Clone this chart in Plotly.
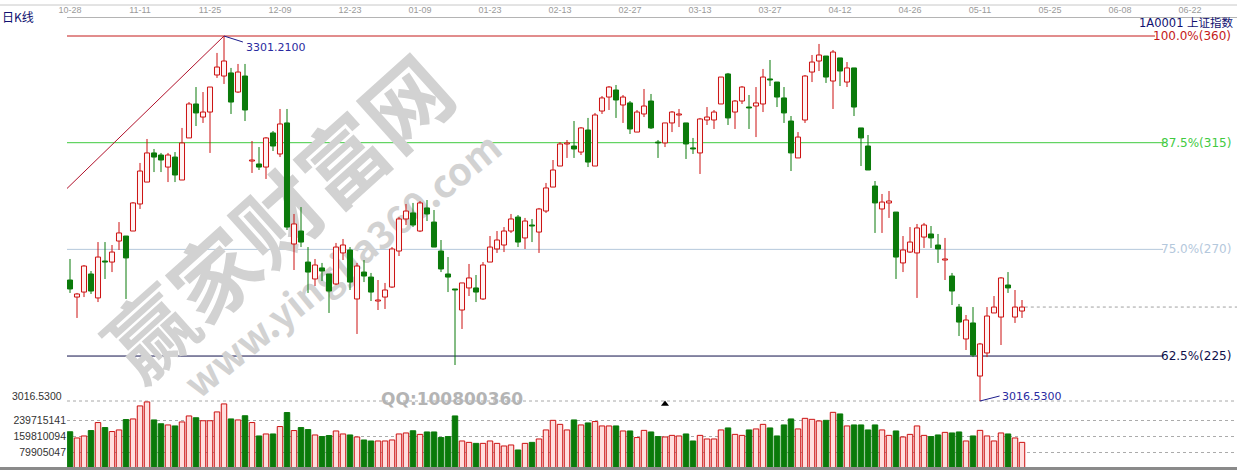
import plotly.graph_objects as go

# ---------------- data ----------------
top_dates = ["10-28", "11-11", "11-25", "12-09", "12-23", "01-09", "01-23", "02-13", "02-27",
             "03-13", "03-27", "04-12", "04-26", "05-11", "05-25", "06-08", "06-22"]
top_date_idx = [0, 10, 20, 30, 40, 50, 60, 70, 80, 90, 100, 110, 120, 130, 140, 150, 160]

open_ = [3110.9, 3097.6, 3101.5, 3115.6, 3096.9, 3125.7, 3124.9, 3141.3, 3145.2, 3149.1,
         3170.2, 3187.3, 3210.0, 3208.4, 3199.0, 3206.8, 3188.9, 3221.7, 3248.2, 3238.0,
         3241.9, 3270.8, 3270.0, 3272.4, 3257.5, 3270.0, 3203.7, 3201.4, 3199.0, 3225.6,
         3209.2, 3233.4, 3139.0, 3149.1, 3124.9, 3111.7, 3120.3, 3115.6, 3107.8, 3132.0,
         3134.3, 3096.1, 3117.1, 3113.2, 3094.5, 3097.6, 3105.4, 3133.5, 3158.5, 3163.2,
         3149.1, 3167.1, 3156.1, 3133.5, 3115.6, 3103.9, 3087.5, 3104.7, 3104.7, 3096.1,
         3124.9, 3135.1, 3138.2, 3149.1, 3160.0, 3143.7, 3153.8, 3148.3, 3164.7, 3183.4,
         3199.8, 3217.0, 3215.4, 3210.7, 3227.9, 3199.8, 3242.7, 3253.6, 3259.1, 3247.4,
         3249.0, 3226.3, 3240.4, 3250.5, 3218.5, 3217.8, 3233.4, 3239.6, 3233.4, 3213.9,
         3210.0, 3235.7, 3235.7, 3248.2, 3271.6, 3241.9, 3250.5, 3245.8, 3246.6, 3248.2,
         3267.7, 3265.3, 3252.9, 3234.9, 3206.1, 3235.7, 3273.1, 3281.7, 3285.6, 3266.1,
         3284.1, 3265.3, 3276.3, 3229.5, 3215.4, 3184.2, 3166.3, 3171.0, 3163.9, 3124.2,
         3132.7, 3132.0, 3144.4, 3146.8, 3138.2, 3126.5, 3114.0, 3089.8, 3064.9, 3077.4,
         3036.0, 3054.0, 3085.2, 3082.0, 3107.0, 3082.0, 3086.7]

high = [3127.3, 3100.8, 3122.6, 3117.9, 3140.5, 3140.5, 3138.2, 3156.1, 3145.2, 3171.7,
        3202.2, 3220.9, 3213.1, 3210.0, 3210.0, 3210.7, 3229.5, 3249.7, 3261.4, 3257.5,
        3261.4, 3288.0, 3301.21, 3276.3, 3279.4, 3279.4, 3219.3, 3214.6, 3222.4, 3227.1,
        3244.3, 3244.3, 3162.4, 3167.8, 3136.6, 3127.3, 3124.2, 3115.6, 3139.8, 3142.9,
        3136.6, 3124.2, 3126.5, 3116.4, 3110.9, 3108.6, 3136.6, 3160.0, 3170.2, 3171.0,
        3172.5, 3173.3, 3165.5, 3142.1, 3128.8, 3103.9, 3108.6, 3123.4, 3114.8, 3124.9,
        3145.2, 3149.1, 3152.2, 3162.4, 3161.6, 3159.3, 3158.5, 3167.1, 3186.6, 3204.5,
        3218.5, 3220.1, 3234.9, 3230.2, 3237.3, 3241.2, 3254.4, 3262.2, 3263.0, 3255.2,
        3250.5, 3243.5, 3259.9, 3256.0, 3220.1, 3233.4, 3242.7, 3244.3, 3233.4, 3221.7,
        3237.3, 3245.8, 3243.5, 3269.2, 3272.4, 3251.3, 3262.2, 3255.2, 3261.4, 3275.5,
        3282.5, 3265.3, 3261.4, 3238.8, 3226.3, 3270.8, 3286.4, 3295.0, 3285.6, 3290.3,
        3284.1, 3280.9, 3276.3, 3229.5, 3224.0, 3188.1, 3178.0, 3180.3, 3163.9, 3145.2,
        3152.2, 3154.6, 3155.4, 3153.0, 3146.8, 3143.7, 3116.4, 3092.2, 3083.6, 3089.8,
        3061.8, 3089.8, 3098.4, 3113.2, 3117.1, 3103.1, 3095.3]

low = [3100.8, 3081.3, 3097.6, 3100.0, 3093.7, 3111.7, 3117.1, 3134.3, 3096.1, 3149.1,
       3166.3, 3187.3, 3195.1, 3195.1, 3187.3, 3187.3, 3188.9, 3221.7, 3231.0, 3233.4,
       3210.0, 3268.5, 3263.8, 3240.4, 3256.8, 3234.9, 3194.4, 3196.7, 3189.7, 3211.5,
       3206.8, 3149.9, 3118.7, 3136.6, 3100.8, 3106.2, 3110.1, 3085.2, 3107.0, 3126.5,
       3103.1, 3068.8, 3109.3, 3094.5, 3087.5, 3088.3, 3104.7, 3129.6, 3153.8, 3152.2,
       3148.3, 3156.9, 3136.6, 3117.1, 3101.5, 3044.6, 3072.7, 3098.4, 3093.7, 3095.3,
       3124.9, 3132.0, 3132.7, 3147.6, 3136.6, 3135.1, 3140.5, 3132.0, 3163.2, 3183.4,
       3199.8, 3206.1, 3206.1, 3208.4, 3199.0, 3199.8, 3240.4, 3243.5, 3237.3, 3233.4,
       3224.8, 3226.3, 3238.0, 3228.7, 3206.1, 3214.6, 3226.3, 3230.2, 3205.3, 3209.2,
       3193.6, 3231.8, 3228.7, 3248.2, 3231.8, 3228.7, 3248.2, 3228.7, 3222.4, 3241.9,
       3262.2, 3245.8, 3233.4, 3195.9, 3206.1, 3233.4, 3265.3, 3273.9, 3264.6, 3244.3,
       3262.2, 3261.4, 3238.8, 3199.8, 3196.7, 3147.6, 3147.6, 3159.3, 3111.7, 3117.1,
       3132.0, 3096.9, 3135.9, 3135.9, 3124.2, 3110.9, 3091.4, 3067.2, 3056.3, 3050.8,
       3016.53, 3050.8, 3085.2, 3060.2, 3100.8, 3077.4, 3081.3]

close = [3103.9, 3100.0, 3121.8, 3102.3, 3128.8, 3124.9, 3132.7, 3147.6, 3128.1, 3171.0,
         3195.9, 3210.0, 3206.8, 3204.5, 3208.4, 3192.8, 3217.8, 3248.2, 3241.2, 3241.9,
         3261.4, 3277.0, 3281.7, 3249.7, 3273.1, 3243.5, 3204.5, 3199.0, 3221.7, 3215.4,
         3232.6, 3152.2, 3154.6, 3140.5, 3117.1, 3122.6, 3117.9, 3102.3, 3136.6, 3138.2,
         3109.3, 3121.8, 3114.0, 3101.5, 3095.3, 3103.1, 3135.1, 3158.5, 3164.7, 3153.8,
         3171.0, 3162.4, 3136.6, 3119.5, 3113.2, 3103.1, 3108.6, 3112.5, 3101.5, 3122.6,
         3136.6, 3142.1, 3149.1, 3158.5, 3140.5, 3156.9, 3153.0, 3166.3, 3182.7, 3196.7,
         3217.0, 3217.8, 3213.1, 3229.5, 3202.9, 3239.6, 3252.9, 3261.4, 3251.3, 3253.6,
         3228.7, 3241.9, 3246.6, 3229.5, 3217.8, 3233.4, 3241.9, 3240.4, 3217.0, 3213.1,
         3236.5, 3238.0, 3241.9, 3269.2, 3237.3, 3250.5, 3261.4, 3245.1, 3249.0, 3269.2,
         3266.9, 3253.6, 3241.2, 3210.0, 3222.4, 3270.0, 3280.9, 3286.4, 3269.2, 3288.7,
         3273.9, 3276.3, 3245.8, 3221.7, 3196.7, 3171.0, 3171.7, 3172.5, 3128.8, 3134.3,
         3140.5, 3151.5, 3153.8, 3143.7, 3135.1, 3127.3, 3102.3, 3078.1, 3079.7, 3052.4,
         3061.0, 3082.8, 3089.8, 3112.5, 3104.7, 3089.8, 3089.8]

# volume, millions of shares
volume_m = [181, 150, 160, 187, 227, 202, 182, 190, 242, 245,
            310, 330, 240, 221, 215, 210, 230, 260, 251, 236,
            236, 280, 320, 245, 240, 261, 227, 160, 170, 170,
            207, 277, 187, 202, 192, 165, 157, 162, 185, 170,
            165, 155, 140, 135, 135, 135, 140, 170, 175, 186,
            168, 180, 180, 152, 157, 260, 135, 128, 123, 123,
            135, 123, 110, 115, 90, 123, 128, 145, 190, 238,
            218, 190, 240, 215, 225, 232, 210, 210, 210, 185,
            185, 152, 188, 180, 157, 155, 163, 160, 170, 135,
            163, 145, 145, 190, 200, 168, 163, 190, 195, 218,
            200, 160, 215, 245, 195, 248, 243, 235, 238, 278,
            270, 210, 215, 215, 190, 215, 190, 163, 185, 155,
            168, 210, 163, 157, 165, 178, 175, 180, 135, 160,
            188, 160, 135, 175, 170, 150, 128]

vol_ticks = [79905047, 159810094, 239715141]

level_names = ["100.0%(360)", "87.5%(315)", "75.0%(270)", "62.5%(225)"]
level_prices = [3301.21, 3218.0, 3134.8, 3051.6]
level_colors = ["#c41a1a", "#3fca3f", "#b4c8dc", "#10104a"]

trend_x = [-0.5, 22]
trend_y = [3181.9, 3301.21]

# ---------------- styling / scales ----------------
RED = "#cc1111"
GREEN = "#0a7a0a"
UP_FILL = "#fff3f3"
VOL_UP_FILL = "#ffdede"
NAVY = "#1c1c8c"

W, H = 1237, 470
L_M, T_M = 67, 18
n = len(open_)
idx = list(range(n))
up = [c >= o for o, c in zip(open_, close)]

price_hi, price_lo = max(high), min(low)
peak_i = high.index(price_hi)
low_i = low.index(price_lo)
ppx = (price_hi - price_lo) / (401 - 36)          # price units per pixel
y_range = [price_lo - (H - 401) * ppx, price_hi + (36 - T_M) * ppx]
vpx = vol_ticks[0] / 16.0                          # volume per pixel
y2_range = [-(H - 468) * vpx, (468 - T_M) * vpx]
x_range = [(L_M - 70) / 7.0, (W - 70) / 7.0]


def paper_x(px):
    return (px - L_M) / (W - L_M)


def paper_y(py):
    return 1 - (py - T_M) / (H - T_M)


fig = go.Figure()

# volume bars
for is_up, fill, edge in [(True, VOL_UP_FILL, RED), (False, GREEN, GREEN)]:
    xs = [i for i in idx if up[i] == is_up]
    fig.add_trace(go.Bar(
        x=xs, y=[volume_m[i] * 1e6 for i in xs], width=0.78, yaxis="y2",
        marker=dict(color=fill, line=dict(color=edge, width=1)), hoverinfo="skip"))

# candle bodies
for is_up, fill, edge in [(True, UP_FILL, RED), (False, GREEN, GREEN)]:
    xs = [i for i in idx if up[i] == is_up]
    fig.add_trace(go.Bar(
        x=xs, y=[abs(close[i] - open_[i]) for i in xs],
        base=[min(open_[i], close[i]) for i in xs], width=0.72, yaxis="y",
        marker=dict(color=fill, line=dict(color=edge, width=1)), hoverinfo="skip"))

# wicks (above and below the body)
for is_up, col in [(True, RED), (False, GREEN)]:
    wx, wy = [], []
    for i in idx:
        if up[i] != is_up:
            continue
        top, bot = max(open_[i], close[i]), min(open_[i], close[i])
        if high[i] > top:
            wx += [i, i, None]
            wy += [high[i], top, None]
        if low[i] < bot:
            wx += [i, i, None]
            wy += [bot, low[i], None]
    fig.add_trace(go.Scatter(x=wx, y=wy, mode="lines", yaxis="y",
                             line=dict(color=col, width=1), hoverinfo="skip"))

# trend line to the peak
fig.add_trace(go.Scatter(x=trend_x, y=trend_y, mode="lines", yaxis="y",
                         line=dict(color="#b0102a", width=1), hoverinfo="skip"))

# leader lines for the high / low labels
fig.add_trace(go.Scatter(x=[peak_i, peak_i + 2.7], y=[price_hi, price_hi - 6 * ppx],
                         mode="lines", line=dict(color=NAVY, width=1), hoverinfo="skip"))
fig.add_trace(go.Scatter(x=[low_i, low_i + 2.8], y=[price_lo, price_lo + 5 * ppx],
                         mode="lines", line=dict(color=NAVY, width=1), hoverinfo="skip"))

# small cursor triangle
fig.add_trace(go.Scatter(x=[85], y=[price_lo - 3 * ppx], mode="markers",
                         marker=dict(symbol="triangle-up", size=7, color="black"),
                         hoverinfo="skip"))

shapes = []
# level lines
for name, lv, col in zip(level_names, level_prices, level_colors):
    end_px = 1155 if name.startswith("100") else 1163
    shapes.append(dict(type="line", xref="x domain", yref="y", x0=0, x1=paper_x(end_px),
                       y0=lv, y1=lv, line=dict(color=col, width=1), layer="below"))
# low dashed line
shapes.append(dict(type="line", xref="x domain", yref="y", x0=0, x1=1, y0=price_lo, y1=price_lo,
                   line=dict(color="#a8a8a8", width=1, dash="3px,3px"), layer="below"))
# last close dashed line
shapes.append(dict(type="line", xref="x", yref="y", x0=n - 0.6, x1=x_range[1],
                   y0=close[-1], y1=close[-1],
                   line=dict(color="#a0a0a0", width=1, dash="3px,3px"), layer="below"))
# bottom bar and top toolbar line
shapes.append(dict(type="rect", xref="paper", yref="paper", x0=paper_x(0), x1=1,
                   y0=paper_y(470), y1=paper_y(467), line=dict(width=0), fillcolor="#8a8a8a"))
shapes.append(dict(type="line", xref="paper", yref="paper", x0=paper_x(0), x1=1,
                   y0=paper_y(5), y1=paper_y(5), line=dict(color="#c8c8c8", width=1)))
# watermark (behind the candles)
for text, cx, cy, size, ang in [("<b>赢家财富网</b>", 285, 225, 86, -42),
                                ("<b>www.yingjia360.com</b>", 345, 268, 38, -39)]:
    shapes.append(dict(type="rect", xref="paper", yref="paper",
                       x0=paper_x(cx) - 0.001, x1=paper_x(cx) + 0.001,
                       y0=paper_y(cy) - 0.001, y1=paper_y(cy) + 0.001,
                       line=dict(width=0), fillcolor="rgba(0,0,0,0)", layer="below",
                       label=dict(text=text, textangle=ang, textposition="middle center",
                                  font=dict(size=size, color="#d2d2d2",
                                            family="Noto Sans CJK SC, DejaVu Sans"))))

annotations = []
for name, lv, col in zip(level_names, level_prices, level_colors):
    annotations.append(dict(text=name, xref="paper", yref="y", x=paper_x(1233), y=lv,
                            xanchor="right", yanchor="middle", showarrow=False,
                            font=dict(family="DejaVu Sans", size=12, color=col)))
annotations += [
    dict(text=f"{price_hi:.4f}", xref="x", yref="y", x=peak_i + 2.9, y=price_hi, yshift=-11,
         xanchor="left", yanchor="middle", showarrow=False,
         font=dict(family="DejaVu Sans", size=11, color="#2a2aa0")),
    dict(text=f"{price_lo:.4f}", xref="x", yref="y", x=low_i + 2.9, y=price_lo, yshift=5,
         xanchor="left", yanchor="middle", showarrow=False,
         font=dict(family="DejaVu Sans", size=11, color="#2a2aa0")),
    dict(text=f"{price_lo:.4f}", xref="paper", yref="y", x=paper_x(64), y=price_lo, yshift=5,
         xanchor="right", yanchor="middle", showarrow=False,
         font=dict(family="Liberation Sans", size=10.5, color="#333333")),
    dict(text="QQ:100800360", xref="paper", yref="paper", x=paper_x(452), y=paper_y(399),
         xanchor="center", yanchor="middle", showarrow=False,
         font=dict(family="DejaVu Sans", size=17, color="#b4b4b4", weight="bold")),
    dict(text="日K线", xref="paper", yref="paper", x=paper_x(0), y=paper_y(17),
         xanchor="left", yanchor="middle", showarrow=False,
         font=dict(family="Noto Sans CJK SC", size=12, color="#101070")),
    dict(text="1A0001 上证指数", xref="paper", yref="paper", x=paper_x(1236), y=paper_y(23),
         xanchor="right", yanchor="middle", showarrow=False,
         font=dict(family="DejaVu Sans, Noto Sans CJK SC", size=11.5, color="#101070")),
]

fig.update_layout(
    width=W, height=H,
    margin=dict(l=L_M, r=0, t=T_M, b=0, pad=0),
    paper_bgcolor="white", plot_bgcolor="white",
    showlegend=False, barmode="overlay",
    font=dict(family="DejaVu Sans"),
    xaxis=dict(range=x_range, side="top", tickvals=top_date_idx, ticktext=top_dates,
               showline=True, linecolor="#b4b4b4", linewidth=1, showgrid=False,
               zeroline=False, ticks="", tickfont=dict(family="Liberation Sans", size=9,
                                                         color="#9a9a9a"),
               fixedrange=True),
    yaxis=dict(range=y_range, visible=False, fixedrange=True),
    yaxis2=dict(range=y2_range, overlaying="y", side="left", tickvals=vol_ticks,
                ticktext=[str(v) for v in vol_ticks], showgrid=True, gridcolor="#ababab",
                griddash="3px,3px", gridwidth=1, zeroline=False, ticks="", showline=False,
                tickfont=dict(family="Liberation Sans", size=10.5, color="#333333"),
                fixedrange=True),
    shapes=shapes,
    annotations=annotations,
)

fig.write_html("out.html", include_plotlyjs=True, full_html=True,
               config={"displayModeBar": False},
               post_script="document.body.style.margin='0';document.body.style.overflow='hidden';")
